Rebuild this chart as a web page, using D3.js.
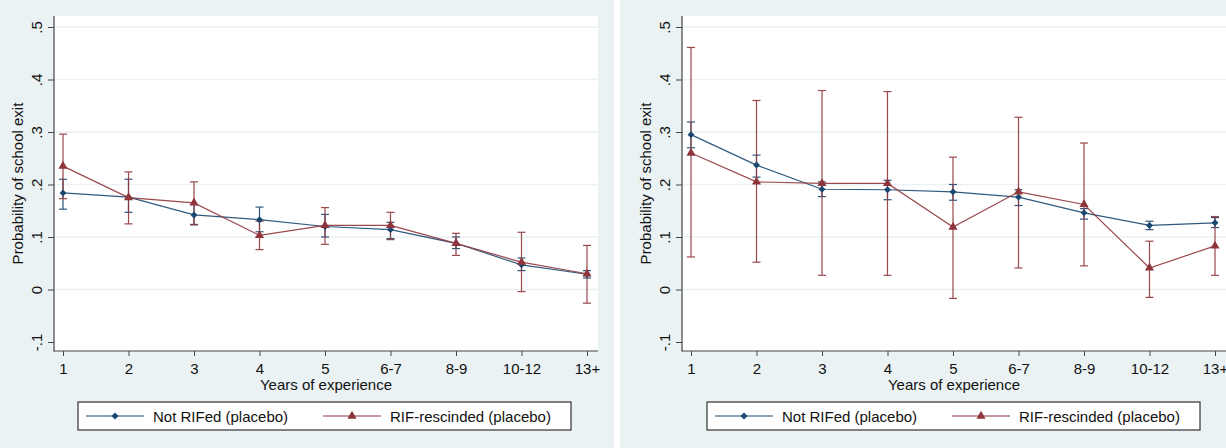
<!DOCTYPE html>
<html>
<head>
<meta charset="utf-8">
<script src="https://cdn.jsdelivr.net/npm/d3@7"></script>
<style>
  body { margin: 0; background: #fff; }
  svg { display: block; font-family: "Liberation Sans", Arial, sans-serif; }
</style>
</head>
<body>
<svg id="chart" width="1226" height="448"></svg>
<script>
// categories and ticks
var categories = ["1", "2", "3", "4", "5", "6-7", "8-9", "10-12", "13+"];
var yTicks = [-0.1, 0, 0.1, 0.2, 0.3, 0.4, 0.5];
var yTickLabels = ["-.1", "0", ".1", ".2", ".3", ".4", ".5"];
var gridTicks = [0, 0.1, 0.2, 0.3, 0.4, 0.5];
var seriesNames = ["Not RIFed (placebo)", "RIF-rescinded (placebo)"];

// left panel
var notRifedA    = [0.184, 0.176, 0.142, 0.133, 0.120, 0.114, 0.088, 0.047, 0.029];
var notRifedALo  = [0.153, 0.147, 0.123, 0.110, 0.100, 0.097, 0.078, 0.036, 0.022];
var notRifedAHi  = [0.210, 0.210, 0.162, 0.157, 0.143, 0.128, 0.100, 0.060, 0.036];
var rescindedA   = [0.235, 0.175, 0.165, 0.103, 0.122, 0.122, 0.088, 0.052, 0.030];
var rescindedALo = [0.173, 0.125, 0.124, 0.076, 0.086, 0.095, 0.065, -0.004, -0.026];
var rescindedAHi = [0.296, 0.224, 0.205, 0.130, 0.156, 0.147, 0.107, 0.109, 0.084];

// right panel
var notRifedB    = [0.295, 0.237, 0.191, 0.190, 0.186, 0.176, 0.146, 0.122, 0.127];
var notRifedBLo  = [0.270, 0.214, 0.177, 0.171, 0.170, 0.160, 0.134, 0.114, 0.118];
var notRifedBHi  = [0.319, 0.256, 0.205, 0.208, 0.200, 0.190, 0.154, 0.130, 0.137];
var rescindedB   = [0.260, 0.205, 0.202, 0.202, 0.119, 0.186, 0.162, 0.041, 0.083];
var rescindedBLo = [0.062, 0.052, 0.027, 0.027, -0.017, 0.041, 0.045, -0.015, 0.027];
var rescindedBHi = [0.461, 0.360, 0.379, 0.377, 0.252, 0.328, 0.279, 0.092, 0.139];

var BLUE = "#1a476f", RED = "#90353b", BG = "#eaf2f3", AXIS = "#444";

var svg = d3.select("#chart");

function zip(v, lo, hi) {
  return v.map(function (d, i) { return { c: categories[i], v: d, lo: lo[i], hi: hi[i] }; });
}

function drawPanel(p) {
  var g = svg.append("g");
  g.append("rect").attr("x", p.bgX).attr("y", 0).attr("width", p.bgW).attr("height", 448).attr("fill", BG);
  g.append("rect").attr("x", p.left).attr("y", 16).attr("width", p.right - p.left).attr("height", 335).attr("fill", "#fff");

  var x = d3.scalePoint().domain(categories).range([p.left + 9, p.right - 11]);
  var y = d3.scaleLinear().domain([-0.1, 0.5]).range([342, 27]);

  // gridlines
  g.selectAll(".grid").data(gridTicks).enter().append("line")
    .attr("x1", p.left).attr("x2", p.right)
    .attr("y1", function (d) { return y(d); }).attr("y2", function (d) { return y(d); })
    .attr("stroke", BG).attr("stroke-width", 1.3);

  // y axis
  var ya = g.append("g").attr("transform", "translate(" + p.left + ",0)")
    .call(d3.axisLeft(y).tickValues(yTicks).tickSize(6).tickSizeOuter(0)
      .tickFormat(function (d, i) { return yTickLabels[i]; }));
  ya.select(".domain").remove();
  ya.selectAll(".tick line").attr("stroke", AXIS);
  ya.selectAll(".tick text")
    .attr("transform", "rotate(-90)").attr("x", 0).attr("y", -12).attr("dy", 0)
    .attr("text-anchor", "middle").attr("font-size", 15).attr("fill", "#111")
    .attr("font-family", "Liberation Sans, Arial, sans-serif");
  g.append("line").attr("x1", p.left).attr("x2", p.left).attr("y1", 16).attr("y2", 351.5)
    .attr("stroke", AXIS).attr("stroke-width", 1.2);

  // x axis
  var xa = g.append("g").attr("transform", "translate(0,351)")
    .call(d3.axisBottom(x).tickSize(5).tickPadding(7).tickSizeOuter(0));
  xa.select(".domain").remove();
  xa.selectAll(".tick line").attr("stroke", AXIS);
  xa.selectAll(".tick text").attr("font-size", 15).attr("fill", "#111")
    .attr("font-family", "Liberation Sans, Arial, sans-serif");
  g.append("line").attr("x1", p.left).attr("x2", p.right).attr("y1", 351).attr("y2", 351)
    .attr("stroke", AXIS).attr("stroke-width", 1.2);

  // titles
  g.append("text").attr("transform", "translate(" + (p.left - 31) + "," + 183.5 + ") rotate(-90)")
    .attr("text-anchor", "middle").attr("font-size", 15).attr("fill", "#111")
    .text("Probability of school exit");
  g.append("text").attr("x", (p.left + p.right) / 2).attr("y", 390)
    .attr("text-anchor", "middle").attr("font-size", 15).attr("fill", "#111")
    .text("Years of experience");

  var series = [
    { data: zip(p.blue, p.blueLo, p.blueHi), color: BLUE, sym: "diamond" },
    { data: zip(p.red, p.redLo, p.redHi), color: RED, sym: "triangle" }
  ];

  // confidence intervals
  series.forEach(function (s) {
    var ci = g.append("g").attr("stroke", s.color).attr("stroke-width", 1.2).attr("opacity", 0.9);
    ci.selectAll(".v").data(s.data).enter().append("line")
      .attr("x1", function (d) { return x(d.c); }).attr("x2", function (d) { return x(d.c); })
      .attr("y1", function (d) { return y(d.lo); }).attr("y2", function (d) { return y(d.hi); });
    ["lo", "hi"].forEach(function (k) {
      ci.selectAll(".c" + k).data(s.data).enter().append("line")
        .attr("x1", function (d) { return x(d.c) - 4; }).attr("x2", function (d) { return x(d.c) + 4; })
        .attr("y1", function (d) { return y(d[k]); }).attr("y2", function (d) { return y(d[k]); });
    });
  });

  // connected lines with markers
  var line = d3.line().x(function (d) { return x(d.c); }).y(function (d) { return y(d.v); });
  series.forEach(function (s) {
    g.append("path").datum(s.data).attr("d", line)
      .attr("fill", "none").attr("stroke", s.color).attr("stroke-width", 1.2).attr("opacity", 0.9);
    g.selectAll(".m").data(s.data).enter().append("path")
      .attr("d", s.sym === "diamond" ? d3.symbol(d3.symbolSquare, 24)() : d3.symbol(d3.symbolTriangle, 36)())
      .attr("transform", function (d) {
        return "translate(" + x(d.c) + "," + y(d.v) + ")" + (s.sym === "diamond" ? " rotate(45)" : "");
      })
      .attr("fill", s.color);
  });

  // legend
  var lg = g.append("g");
  lg.append("rect").attr("x", p.legX).attr("y", 402).attr("width", 493).attr("height", 28)
    .attr("fill", "#fff").attr("stroke", "#333").attr("stroke-width", 1.2);
  var entries = [
    { name: seriesNames[0], color: BLUE, sym: "diamond", x0: p.legX + 8 },
    { name: seriesNames[1], color: RED, sym: "triangle", x0: p.legX + 245 }
  ];
  entries.forEach(function (e) {
    lg.append("line").attr("x1", e.x0).attr("x2", e.x0 + 58).attr("y1", 416).attr("y2", 416)
      .attr("stroke", e.color).attr("stroke-width", 1.2);
    lg.append("path")
      .attr("d", e.sym === "diamond" ? d3.symbol(d3.symbolSquare, 24)() : d3.symbol(d3.symbolTriangle, 36)())
      .attr("transform", "translate(" + (e.x0 + 29) + ",416)" + (e.sym === "diamond" ? " rotate(45)" : ""))
      .attr("fill", e.color);
    lg.append("text").attr("x", e.x0 + 67).attr("y", 421.5).attr("font-size", 15).attr("fill", "#111")
      .text(e.name);
  });
}

drawPanel({
  bgX: 0, bgW: 614, left: 54, right: 598, legX: 78,
  blue: notRifedA, blueLo: notRifedALo, blueHi: notRifedAHi,
  red: rescindedA, redLo: rescindedALo, redHi: rescindedAHi
});
drawPanel({
  bgX: 620, bgW: 606, left: 682, right: 1226, legX: 707,
  blue: notRifedB, blueLo: notRifedBLo, blueHi: notRifedBHi,
  red: rescindedB, redLo: rescindedBLo, redHi: rescindedBHi
});
</script>
</body>
</html>
